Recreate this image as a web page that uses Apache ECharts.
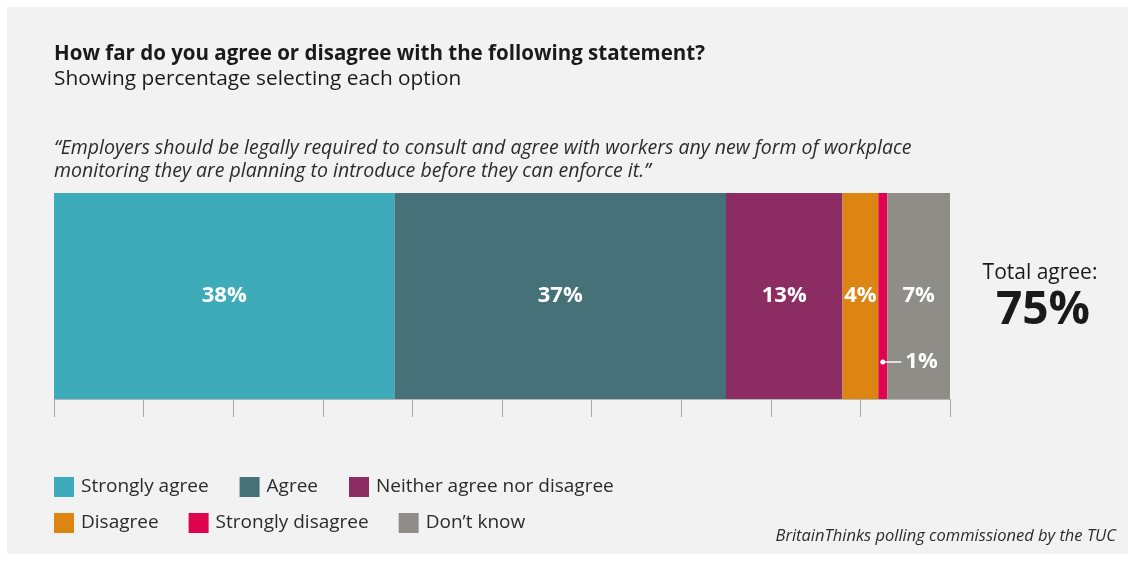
<!DOCTYPE html>
<html>
<head>
<meta charset="utf-8">
<style>
  html, body { margin: 0; padding: 0; background: #ffffff; }
  #chart { width: 1134px; height: 561px; }
</style>
<script src="https://cdn.jsdelivr.net/npm/echarts@6/dist/echarts.min.js"></script>
</head>
<body>
<div id="chart"></div>
<script>
// Survey responses (percent of respondents)
const categories = ['Statement'];
const seriesNames = ['Strongly agree', 'Agree', 'Neither agree nor disagree', 'Disagree', 'Strongly disagree', 'Don\u2019t know'];
const seriesValues = [38, 37, 13, 4, 1, 7];
const seriesColors = ['#3eabbb', '#467178', '#8b2c62', '#dc8513', '#e0044f', '#8f8d88'];
const totalAgree = 75;
const axisTicks = [0, 10, 20, 30, 40, 50, 60, 70, 80, 90, 100];

const FONT = '"Open Sans", "Noto Sans", sans-serif';

const chart = echarts.init(document.getElementById('chart'), null, { renderer: 'canvas' });

const series = seriesNames.map((name, i) => {
  const small = seriesValues[i] < 2;
  // Thin segments get their label outside, joined by a short white leader
  const label = small ? {
    show: true,
    position: [2, 169],
    align: 'left',
    verticalAlign: 'middle',
    formatter: p => '{dot|}{line|}{t|' + p.value + '%}',
    rich: {
      dot: { width: 5, height: 5, borderRadius: 2.5, backgroundColor: '#ffffff', verticalAlign: 'middle' },
      line: { width: 16, height: 1.5, backgroundColor: '#ffffff', verticalAlign: 'middle' },
      t: { color: '#ffffff', fontFamily: FONT, fontWeight: 'bold', fontSize: 22, padding: [0, 0, 0, 4], verticalAlign: 'middle' }
    }
  } : {
    show: true,
    position: 'inside',
    color: '#ffffff',
    fontFamily: FONT,
    fontWeight: 'bold',
    fontSize: 22,
    formatter: p => p.value + '%'
  };
  return {
    name,
    type: 'bar',
    stack: 'total',
    barWidth: '100%',
    itemStyle: { color: seriesColors[i] },
    label,
    emphasis: { disabled: true },
    data: categories.map(() => seriesValues[i])
  };
});

const legendText = { fontFamily: FONT, fontSize: 19, color: '#2b2b2b', padding: [0, 0, 0, 2] };

const option = {
  backgroundColor: '#ffffff',
  animation: false,
  grid: { left: 54, right: 184, top: 193, bottom: 162, containLabel: false },
  xAxis: {
    type: 'value',
    min: axisTicks[0],
    max: axisTicks[axisTicks.length - 1],
    interval: axisTicks[1] - axisTicks[0],
    axisLine: { show: true, lineStyle: { color: '#b5b5b5', width: 1 } },
    axisTick: { show: true, length: 18, lineStyle: { color: '#a8a8a8', width: 1 } },
    axisLabel: { show: false },
    splitLine: { show: false }
  },
  yAxis: {
    type: 'category',
    data: categories,
    show: false
  },
  legend: [
    {
      data: seriesNames.slice(0, 3),
      left: 54, top: 477, padding: 0,
      itemWidth: 20, itemHeight: 20, itemGap: 31,
      icon: 'rect',
      textStyle: legendText,
      selectedMode: false
    },
    {
      data: seriesNames.slice(3),
      left: 54, top: 513, padding: 0,
      itemWidth: 20, itemHeight: 20, itemGap: 30,
      icon: 'rect',
      textStyle: legendText,
      selectedMode: false
    }
  ],
  graphic: [
    {
      type: 'rect', z: -10, silent: true,
      shape: { x: 7, y: 7, width: 1121, height: 547 },
      style: { fill: '#f2f2f2' }
    },
    {
      type: 'text', x: 54, y: 54,
      style: { text: 'How far do you agree or disagree with the following statement?', font: 'bold 20.5px ' + FONT, fill: '#1a1a1a', verticalAlign: 'middle' }
    },
    {
      type: 'text', x: 54, y: 79,
      style: { text: 'Showing percentage selecting each option', font: '20.8px ' + FONT, fill: '#1a1a1a', verticalAlign: 'middle' }
    },
    {
      type: 'text', x: 54, y: 137,
      style: {
        text: '\u201cEmployers should be legally required to consult and agree with workers any new form of workplace\nmonitoring they are planning to introduce before they can enforce it.\u201d',
        font: 'italic 19.5px ' + FONT, fill: '#2b2b2b', lineHeight: 23, verticalAlign: 'top'
      }
    },
    {
      type: 'text', x: 1040, y: 273,
      style: { text: 'Total agree:', font: '21px ' + FONT, fill: '#1a1a1a', align: 'center', verticalAlign: 'middle' }
    },
    {
      type: 'text', x: 1043, y: 311,
      style: { text: totalAgree + '%', font: 'bold 46px ' + FONT, fill: '#1a1a1a', align: 'center', verticalAlign: 'middle' }
    },
    {
      type: 'text', x: 1116, y: 536,
      style: { text: 'BritainThinks polling commissioned by the TUC', font: 'italic 16.5px ' + FONT, fill: '#2b2b2b', align: 'right', verticalAlign: 'middle' }
    }
  ],
  series
};

chart.setOption(option);
</script>
</body>
</html>
